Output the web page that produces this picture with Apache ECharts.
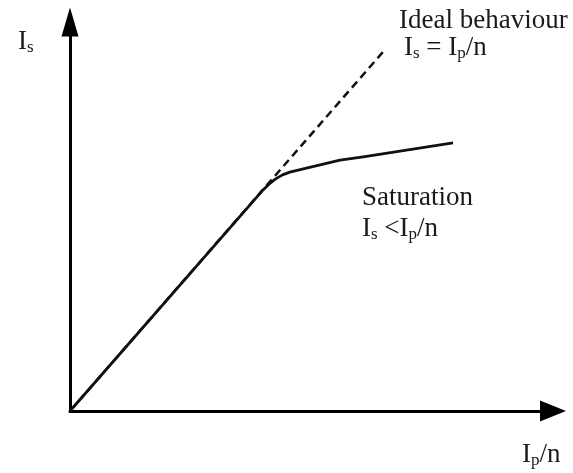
<!DOCTYPE html>
<html>
<head>
<meta charset="utf-8">
<script src="https://cdn.jsdelivr.net/npm/echarts@6/dist/echarts.min.js"></script>
<style>html,body{margin:0;padding:0;background:#fff;}#c{width:573px;height:473px;}</style>
</head>
<body>
<div id="c"></div>
<script>
// Data (arbitrary units)
const idealX = [0, 6.48];
const idealY = [0, 9.23];
const satX = [0, 3.98, 4.12, 4.25, 4.40, 4.55, 5.59, 6.07, 7.93];
const satY = [0, 5.66, 5.83, 5.96, 6.07, 6.14, 6.45, 6.53, 6.89];
const axisMax = 10;

const FONT = '"Liberation Serif", "Times New Roman", serif';
const MAIN = 27, SUB = 17, COLOR = '#1a1a1a';

const rich = {
  m: { fontFamily: FONT, fontSize: MAIN, lineHeight: MAIN, color: COLOR, verticalAlign: 'bottom', padding: [0, 0, 1, 0] },
  s: { fontFamily: FONT, fontSize: SUB, lineHeight: SUB, color: COLOR, verticalAlign: 'bottom', padding: [0, 0, 0, 0] }
};
function label(text, x, y) {
  return {
    type: 'text', x: x, y: y, z: 10,
    style: { text: text, rich: rich, font: MAIN + 'px ' + FONT, fill: COLOR, textAlign: 'left', textVerticalAlign: 'bottom' }
  };
}

const chart = echarts.init(document.getElementById('c'), null, { renderer: 'canvas' });
chart.setOption({
  animation: false,
  backgroundColor: '#fff',
  grid: { left: 70, right: 20, top: 22, bottom: 62, containLabel: false },
  xAxis: {
    type: 'value', min: 0, max: axisMax,
    axisLine: { show: true, symbol: ['none', 'triangle'], symbolSize: [21, 26], lineStyle: { color: '#000', width: 3 } },
    axisTick: { show: false }, axisLabel: { show: false }, splitLine: { show: false }
  },
  yAxis: {
    type: 'value', min: 0, max: axisMax,
    axisLine: { show: true, symbol: ['none', 'triangle'], symbolSize: [17, 29], lineStyle: { color: '#000', width: 3 } },
    axisTick: { show: false }, axisLabel: { show: false }, splitLine: { show: false }
  },
  series: [
    {
      type: 'line', showSymbol: false, silent: true,
      data: idealX.map((x, i) => [x, idealY[i]]),
      lineStyle: { color: '#111', width: 2.5, type: [8, 5] }
    },
    {
      type: 'line', showSymbol: false, silent: true,
      data: satX.map((x, i) => [x, satY[i]]),
      lineStyle: { color: '#111', width: 2.8, join: 'round' }
    }
  ],
  graphic: [
    label('{m|I}{s|s}', 18, 56),
    label('{m|Ideal behaviour}', 399, 35),
    label('{m|I}{s|s}{m| = I}{s|p}{m|/n}', 404, 62),
    label('{m|Saturation}', 362, 212),
    label('{m|I}{s|s}{m| <I}{s|p}{m|/n}', 362, 243),
    label('{m|I}{s|p}{m|/n}', 522, 469)
  ]
});
</script>
</body>
</html>
